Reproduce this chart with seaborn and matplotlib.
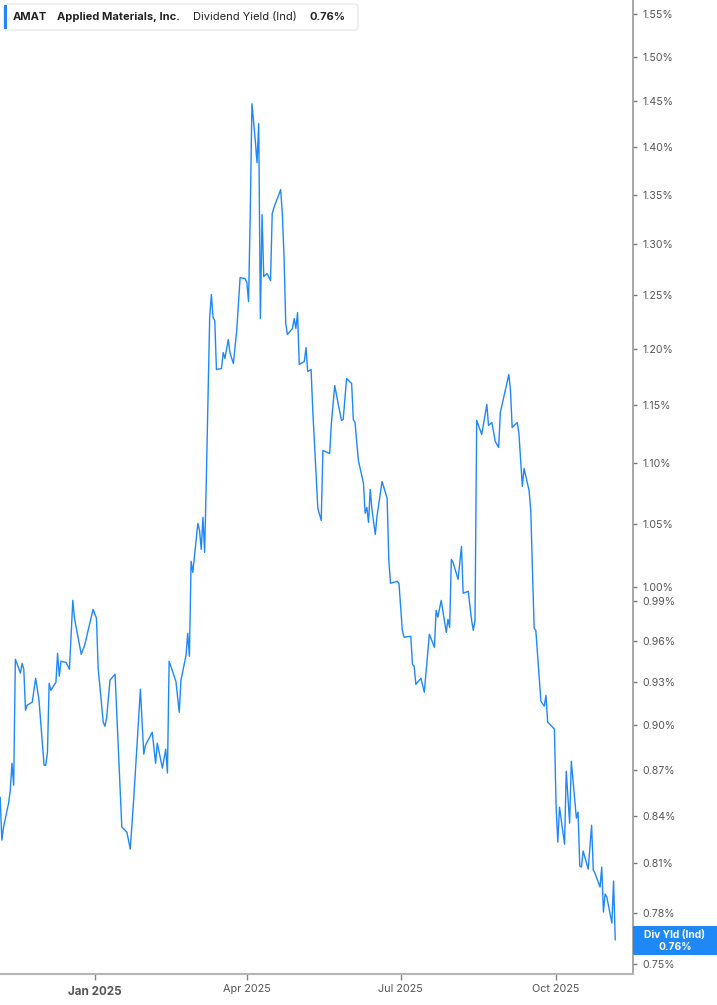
import matplotlib
matplotlib.use("Agg")
import matplotlib.pyplot as plt
import matplotlib.dates as mdates
import matplotlib.ticker as mticker
from matplotlib.patches import FancyBboxPatch, Rectangle
import seaborn as sns
import pandas as pd

dates = [
    "2024-11-06", "2024-11-07", "2024-11-08", "2024-11-11", "2024-11-12", "2024-11-13", "2024-11-14", "2024-11-15",
    "2024-11-17", "2024-11-18", "2024-11-19", "2024-11-20", "2024-11-21", "2024-11-22", "2024-11-25", "2024-11-27",
    "2024-11-29", "2024-12-02", "2024-12-03", "2024-12-04", "2024-12-05", "2024-12-06", "2024-12-09", "2024-12-10",
    "2024-12-11", "2024-12-12", "2024-12-15", "2024-12-17", "2024-12-19", "2024-12-20", "2024-12-24", "2024-12-26",
    "2024-12-31", "2025-01-02", "2025-01-03", "2025-01-06", "2025-01-07", "2025-01-08", "2025-01-10", "2025-01-13",
    "2025-01-17", "2025-01-20", "2025-01-22", "2025-01-24", "2025-01-28", "2025-01-30", "2025-01-31", "2025-02-04",
    "2025-02-06", "2025-02-07", "2025-02-10", "2025-02-12", "2025-02-13", "2025-02-14", "2025-02-18", "2025-02-20",
    "2025-02-21", "2025-02-24", "2025-02-25", "2025-02-26", "2025-02-27", "2025-02-28", "2025-03-03", "2025-03-04",
    "2025-03-05", "2025-03-06", "2025-03-07", "2025-03-08", "2025-03-10", "2025-03-11", "2025-03-12", "2025-03-13",
    "2025-03-14", "2025-03-17", "2025-03-18", "2025-03-19", "2025-03-21", "2025-03-22", "2025-03-24", "2025-03-26",
    "2025-03-28", "2025-03-31", "2025-04-01", "2025-04-02", "2025-04-03", "2025-04-04", "2025-04-06", "2025-04-07",
    "2025-04-08", "2025-04-09", "2025-04-10", "2025-04-11", "2025-04-13", "2025-04-15", "2025-04-16", "2025-04-17",
    "2025-04-21", "2025-04-22", "2025-04-23", "2025-04-24", "2025-04-25", "2025-04-28", "2025-04-29", "2025-04-30",
    "2025-05-01", "2025-05-02", "2025-05-05", "2025-05-06", "2025-05-07", "2025-05-09", "2025-05-10", "2025-05-13",
    "2025-05-15", "2025-05-16", "2025-05-20", "2025-05-21", "2025-05-23", "2025-05-25", "2025-05-27", "2025-05-28",
    "2025-05-30", "2025-06-02", "2025-06-03", "2025-06-04", "2025-06-06", "2025-06-09", "2025-06-10", "2025-06-11",
    "2025-06-12", "2025-06-13", "2025-06-14", "2025-06-16", "2025-06-17", "2025-06-20", "2025-06-23", "2025-06-24",
    "2025-06-25", "2025-06-29", "2025-06-30", "2025-07-02", "2025-07-03", "2025-07-07", "2025-07-08", "2025-07-09",
    "2025-07-10", "2025-07-13", "2025-07-15", "2025-07-18", "2025-07-21", "2025-07-22", "2025-07-23", "2025-07-25",
    "2025-07-28", "2025-07-29", "2025-07-30", "2025-07-31", "2025-08-01", "2025-08-04", "2025-08-06", "2025-08-07",
    "2025-08-10", "2025-08-12", "2025-08-13", "2025-08-14", "2025-08-15", "2025-08-18", "2025-08-21", "2025-08-22",
    "2025-08-24", "2025-08-26", "2025-08-28", "2025-08-29", "2025-09-03", "2025-09-04", "2025-09-05", "2025-09-08",
    "2025-09-09", "2025-09-11", "2025-09-12", "2025-09-15", "2025-09-16", "2025-09-18", "2025-09-19", "2025-09-22",
    "2025-09-24", "2025-09-25", "2025-09-26", "2025-09-29", "2025-09-30", "2025-10-01", "2025-10-02", "2025-10-03",
    "2025-10-06", "2025-10-07", "2025-10-09", "2025-10-10", "2025-10-13", "2025-10-14", "2025-10-15", "2025-10-16",
    "2025-10-17", "2025-10-20", "2025-10-22", "2025-10-23", "2025-10-24", "2025-10-27", "2025-10-28", "2025-10-29",
    "2025-10-30", "2025-10-31", "2025-11-03", "2025-11-04", "2025-11-05",
]

div_yield = [
    0.8520, 0.8245, 0.8327, 0.8481, 0.8565, 0.8743, 0.8598, 0.9466,
    0.9402, 0.9366, 0.9437, 0.9394, 0.9105, 0.9140, 0.9161, 0.9330,
    0.9175, 0.8730, 0.8730, 0.8818, 0.9294, 0.9245, 0.9301, 0.9509,
    0.9344, 0.9452, 0.9444, 0.9394, 0.9902, 0.9767, 0.9502, 0.9568,
    0.9834, 0.9767, 0.9402, 0.9022, 0.8994, 0.9049, 0.9316, 0.9359,
    0.8327, 0.8295, 0.8188, 0.8500, 0.9252, 0.8804, 0.8865, 0.8953,
    0.8743, 0.8879, 0.8711, 0.8838, 0.8678, 0.9452, 0.9309, 0.9091,
    0.9316, 0.9495, 0.9656, 0.9488, 1.0202, 1.0116, 1.0502, 1.0446,
    1.0295, 1.0550, 1.0272, 1.0853, 1.2290, 1.2508, 1.2290, 1.2262,
    1.1812, 1.1821, 1.1966, 1.1912, 1.2086, 1.1966, 1.1866, 1.2169,
    1.2671, 1.2661, 1.2623, 1.2441, 1.3306, 1.4471, 1.4068, 1.3834,
    1.4252, 1.2281, 1.3296, 1.2681, 1.2710, 1.2642, 1.3306, 1.3367,
    1.3552, 1.3306, 1.2866, 1.2234, 1.2132, 1.2188, 1.2281, 1.2188,
    1.2337, 1.1858, 1.1885, 1.2012, 1.1794, 1.1812, 1.1448, 1.0623,
    1.0526, 1.1104, 1.1078, 1.1335, 1.1668, 1.1509, 1.1361, 1.1370,
    1.1731, 1.1686, 1.1370, 1.1343, 1.1019, 1.0828, 1.0583, 1.0631,
    1.0510, 1.0778, 1.0615, 1.0414, 1.0558, 1.0844, 1.0705, 1.0209,
    1.0032, 1.0047, 1.0032, 0.9678, 0.9627, 0.9634, 0.9430, 0.9416,
    0.9287, 0.9330, 0.9231, 0.9649, 0.9553, 0.9827, 0.9775, 0.9902,
    0.9663, 0.9760, 0.9700, 1.0217, 1.0194, 1.0062, 1.0319, 0.9956,
    0.9971, 0.9752, 0.9678, 0.9752, 1.1361, 1.1240, 1.1501, 1.1318,
    1.1343, 1.1180, 1.1129, 1.1431, 1.1767, 1.1624, 1.1300, 1.1343,
    1.1249, 1.0803, 1.0952, 1.0770, 1.0607, 0.9693, 0.9678, 0.9167,
    0.9133, 0.9209, 0.9022, 0.8987, 0.8974, 0.8455, 0.8232, 0.8455,
    0.8219, 0.8690, 0.8352, 0.8757, 0.8384, 0.8423, 0.8083, 0.8077,
    0.8176, 0.8064, 0.8339, 0.8058, 0.8039, 0.7954, 0.8077, 0.7804,
    0.7912, 0.7894, 0.7738, 0.7991, 0.7639,
]

y_ticks = [0.75, 0.78, 0.81, 0.84, 0.87, 0.90, 0.93, 0.96, 0.99, 1.00,
           1.05, 1.10, 1.15, 1.20, 1.25, 1.30, 1.35, 1.40, 1.45, 1.50, 1.55]
x_tick_dates = ["2025-01-01", "2025-04-01", "2025-07-01", "2025-10-01"]
x_tick_labels = ["Jan 2025", "Apr 2025", "Jul 2025", "Oct 2025"]

ticker_sym = "AMAT"
company = "Applied Materials, Inc."
metric = "Dividend Yield (Ind)"
last_label = "0.76%"
badge_label = "Div Yld (Ind)"

BLUE = "#1e88f7"

sns.set_style("white")
plt.rcParams["font.family"] = ["Inter", "DejaVu Sans"]

df = pd.DataFrame({"date": pd.to_datetime(dates), "yield": div_yield})

W, H = 717, 1005
fig = plt.figure(figsize=(W / 100, H / 100), dpi=100)
ax = fig.add_axes([0, 31 / H, 633 / W, 974 / H])

sns.lineplot(data=df, x="date", y="yield", ax=ax, color=BLUE, linewidth=1.0,
             sort=False, estimator=None)

ax.set_yscale("log")
ax.set_ylim(0.7443, 1.5665)
ax.set_xlim(pd.Timestamp("2024-11-05 22:00"), pd.Timestamp("2025-11-15 12:00"))

ax.yaxis.tick_right()
ax.yaxis.set_major_locator(mticker.FixedLocator(y_ticks))
ax.yaxis.set_minor_locator(mticker.NullLocator())
ax.yaxis.set_major_formatter(mticker.FixedFormatter([f"{v:.2f}%" for v in y_ticks]))
ax.tick_params(axis="y", which="major", right=True, left=False, length=3, width=1,
               color="#777777", pad=4, labelsize=7.6, labelcolor="#555555")

ax.xaxis.set_major_locator(mticker.FixedLocator(mdates.date2num(pd.to_datetime(x_tick_dates))))
ax.xaxis.set_minor_locator(mticker.NullLocator())
ax.xaxis.set_major_formatter(mticker.FixedFormatter(x_tick_labels))
ax.tick_params(axis="x", which="major", bottom=True, length=4, width=1,
               color="#888888", pad=3.5, labelsize=7.8, labelcolor="#555555")
for i, lab in enumerate(ax.get_xticklabels()):
    if i == 0:
        lab.set_fontweight("bold")
        lab.set_fontsize(8.4)
        lab.set_y(-0.002)

ax.set_xlabel("")
ax.set_ylabel("")
for side in ["top", "left"]:
    ax.spines[side].set_visible(False)
ax.spines["bottom"].set_color("#b5b5b5")
ax.spines["bottom"].set_linewidth(1.5)
ax.spines["right"].set_color("#a0a0a0")
ax.spines["right"].set_linewidth(1.3)

# legend header box (in pixel-like inches coordinates)
tr = fig.dpi_scale_trans
def px(x, y):
    return x / 100, (H - y) / 100

bx0, by0 = px(4, 30)
box = FancyBboxPatch((bx0, by0), (358 - 4) / 100, 26 / 100,
                     boxstyle="round,pad=0,rounding_size=0.03",
                     transform=tr, facecolor="white", edgecolor="#e4e4e4",
                     linewidth=0.8, zorder=5)
fig.add_artist(box)
bar_x, bar_y = px(4, 29)
fig.add_artist(Rectangle((bar_x, bar_y), 0.03, 0.24, transform=tr,
                         facecolor=BLUE, edgecolor="none", zorder=6))

ty = (H - 16.5) / 100
fig.text(13 / 100, ty, ticker_sym, transform=tr, fontsize=8, fontweight="bold",
         color="#222222", va="center", ha="left", zorder=7)
fig.text(57 / 100, ty, company, transform=tr, fontsize=8, fontweight="bold",
         color="#222222", va="center", ha="left", zorder=7)
fig.text(193 / 100, ty, metric, transform=tr, fontsize=8, fontweight="normal",
         color="#222222", va="center", ha="left", zorder=7)
fig.text(310 / 100, ty, last_label, transform=tr, fontsize=8, fontweight="bold",
         color="#222222", va="center", ha="left", zorder=7)

# right-side value badge
rx, ry = px(633, 955)
fig.add_artist(Rectangle((rx, ry), (717 - 633) / 100, 29 / 100, transform=tr,
                         facecolor=BLUE, edgecolor="none", zorder=6))
fig.text(675 / 100, (H - 935) / 100, badge_label, transform=tr, fontsize=7.4,
         fontweight="bold", color="white", ha="center", va="center", zorder=7)
fig.text(675 / 100, (H - 946.5) / 100, last_label, transform=tr, fontsize=7.4,
         fontweight="bold", color="white", ha="center", va="center", zorder=7)

fig.savefig("out.png", dpi=100, facecolor="white")
